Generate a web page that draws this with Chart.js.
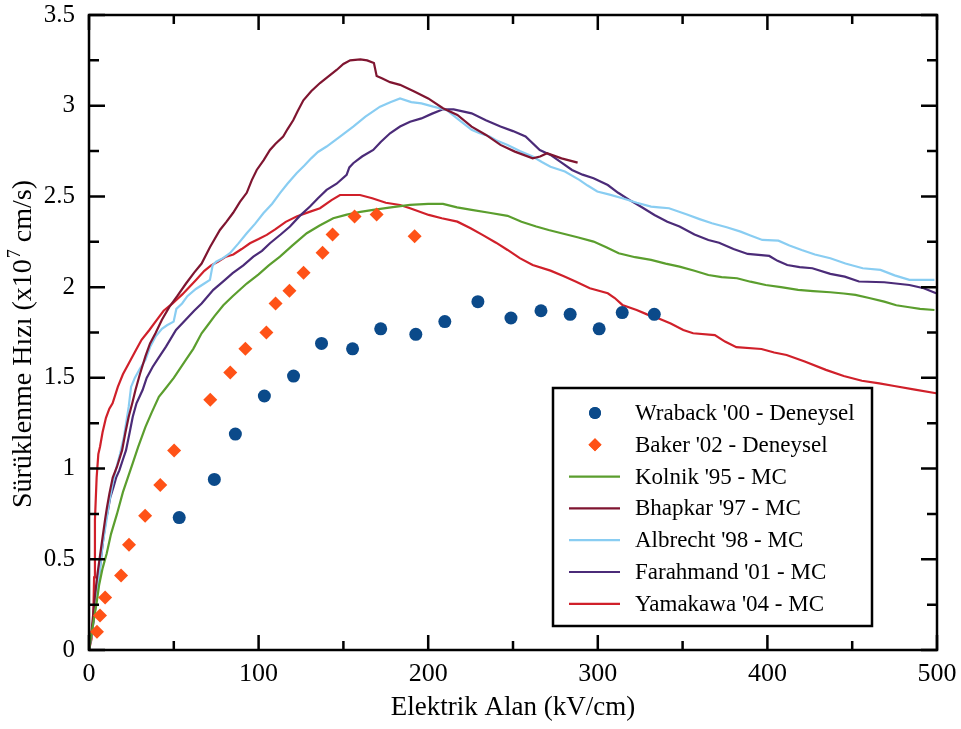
<!DOCTYPE html>
<html lang="tr">
<head>
<meta charset="utf-8">
<title>Sürüklenme Hızı - Elektrik Alan</title>
<script src="https://cdn.jsdelivr.net/npm/chart.js@4.4.1/dist/chart.umd.min.js"></script>
<style>
  html, body { margin: 0; padding: 0; background: #fff; }
  #wrap { width: 961px; height: 729px; }
</style>
</head>
<body>
<div id="wrap"><canvas id="myChart" width="961" height="729"></canvas></div>
<script>
'use strict';

// axis ranges and tick steps
const fieldMin = 0, fieldMax = 500, fieldStep = 100, fieldMinorStep = 50;
const velMin = 0, velMax = 3.5, velStep = 0.5, velMinorStep = 0.25;

// measured points: [field kV/cm, velocity x10^7 cm/s]
const wraback = [
  [53.2, 0.73], [73.9, 0.94], [86.3, 1.19], [103.4, 1.40], [120.6, 1.51],
  [137.1, 1.69], [155.4, 1.66], [172, 1.77], [192.7, 1.74], [209.8, 1.81],
  [229.3, 1.92], [248.8, 1.83], [266.5, 1.87], [283.7, 1.85], [300.8, 1.77],
  [314.4, 1.86], [333.3, 1.85]
];
const baker = [
  [4.7, 0.10], [6.5, 0.19], [9.5, 0.29], [18.9, 0.41], [23.6, 0.58],
  [33.1, 0.74], [42, 0.91], [50.2, 1.10], [71.5, 1.38], [83.3, 1.53],
  [92.2, 1.66], [104.6, 1.75], [110, 1.91], [118.2, 1.98], [126.5, 2.08],
  [137.7, 2.19], [143.6, 2.29], [156.6, 2.39], [169.6, 2.40], [192, 2.28]
];

// Monte Carlo curves
const kolnik = [
  [0, 0], [2, 0.12], [4.5, 0.26], [6, 0.36], [8, 0.45], [10.4, 0.53], [13, 0.64],
  [16.5, 0.75], [20, 0.87], [25.8, 1.03], [29, 1.12], [33.3, 1.23], [37, 1.31],
  [41.2, 1.396], [45, 1.44], [50, 1.5], [57.2, 1.6], [61.5, 1.66], [66.4, 1.746],
  [70, 1.79], [74, 1.84], [79.2, 1.9], [84.7, 1.95], [93, 2.02], [100, 2.07], [106, 2.12],
  [112.6, 2.168], [120, 2.23], [128.4, 2.297], [136, 2.34], [144, 2.38], [152, 2.40],
  [160, 2.415], [167.6, 2.426], [178, 2.44], [189.3, 2.453], [200, 2.459],
  [208.7, 2.459], [217, 2.44], [225.6, 2.426], [236, 2.41], [246.8, 2.393],
  [255, 2.36], [263.7, 2.334], [271, 2.315], [278.6, 2.297], [288, 2.275],
  [297.5, 2.251], [305, 2.22], [312.3, 2.187], [322, 2.165], [331.4, 2.15],
  [340, 2.13], [348.2, 2.113], [357, 2.09], [365.2, 2.067], [373, 2.055],
  [382.1, 2.049], [390, 2.03], [399, 2.012], [408, 2.0], [418.1, 1.985],
  [427, 1.978], [437.1, 1.972], [445, 1.965], [451.9, 1.957], [460, 1.94],
  [468.9, 1.92], [476, 1.90], [483.7, 1.889], [490, 1.88], [498.5, 1.874]
];
const bhapkar = [
  [0, 0], [1.5, 0.1], [2.5, 0.2], [3.5, 0.3], [5, 0.42], [6.5, 0.52], [8, 0.62],
  [9.5, 0.72], [10.5, 0.78], [12, 0.86], [14, 0.95], [16.5, 1.01], [19.5, 1.10],
  [21.5, 1.2], [23.4, 1.286], [25.5, 1.36], [27.4, 1.433], [30, 1.52], [33.3, 1.62],
  [36, 1.69], [39.2, 1.746], [43, 1.82], [47.3, 1.89], [52, 1.95], [57.2, 2.02],
  [62, 2.08], [66.4, 2.13], [71.3, 2.22], [77.2, 2.315], [81, 2.36], [85, 2.41],
  [89, 2.47], [93, 2.52], [96, 2.59], [98.9, 2.646], [103, 2.70], [106.7, 2.756],
  [110, 2.79], [114.5, 2.83], [117, 2.87], [120.4, 2.92], [123, 2.97],
  [126.4, 3.03], [131, 3.08], [136.2, 3.125], [141, 3.16], [146, 3.197],
  [150, 3.23], [154, 3.25], [160, 3.255], [164, 3.25], [168, 3.235],
  [169.6, 3.164], [173, 3.15], [177.5, 3.13], [183.4, 3.115], [191.8, 3.078],
  [200, 3.04], [208.7, 2.986], [217.2, 2.949], [225.6, 2.885], [234.1, 2.839],
  [242.6, 2.784], [251.1, 2.747], [261.6, 2.71], [266, 2.72], [270.1, 2.738],
  [278.6, 2.71], [288.1, 2.686]
];
const albrecht = [
  [0, 0], [1.5, 0.08], [3, 0.2], [4.5, 0.3], [6.5, 0.45], [8, 0.58], [10.4, 0.72],
  [12, 0.82], [14, 0.92], [16, 1.0], [18.3, 1.08], [20.6, 1.176], [23.4, 1.34],
  [24.8, 1.45], [27, 1.5], [30, 1.55], [33.3, 1.6], [36, 1.67], [39.2, 1.727],
  [43, 1.77], [46, 1.79], [49.9, 1.81], [51.5, 1.88], [54.9, 1.91], [58, 1.95], [63, 1.99],
  [68, 2.02], [71.3, 2.04], [72.9, 2.12], [75, 2.14], [79, 2.16], [83.1, 2.187],
  [88, 2.24], [93, 2.297], [98, 2.35], [102.8, 2.407], [108, 2.46], [112.6, 2.518],
  [117, 2.57], [122.4, 2.628], [127, 2.67], [131, 2.71], [135, 2.745],
  [140.1, 2.775], [148, 2.83], [155.8, 2.885], [163, 2.94], [171.6, 2.995],
  [178, 3.02], [183.4, 3.04], [190, 3.02], [196, 3.013], [203, 2.995],
  [210.8, 2.977], [217, 2.93], [225.6, 2.867], [230, 2.85], [236.2, 2.83],
  [240, 2.81], [246.8, 2.784], [254, 2.75], [261.6, 2.72], [267, 2.69],
  [272.1, 2.664], [280.6, 2.637], [289.1, 2.591], [294, 2.56], [299.7, 2.527],
  [307, 2.51], [314.5, 2.49], [323, 2.465], [331.4, 2.444], [336, 2.44],
  [342, 2.435], [352.6, 2.4], [360, 2.375], [367.3, 2.352], [376, 2.33],
  [384.2, 2.306], [390, 2.285], [397, 2.26], [406.5, 2.256], [413, 2.23],
  [420.2, 2.205], [428, 2.18], [437.1, 2.159], [446, 2.13], [456.2, 2.104],
  [466.7, 2.095], [475, 2.065], [483.7, 2.04], [490, 2.04], [498.5, 2.04]
];
const farahmand = [
  [0, 0], [1.5, 0.08], [3, 0.18], [4.5, 0.3], [6.5, 0.46], [8.5, 0.62], [10, 0.72],
  [11, 0.76], [12.5, 0.84], [14.5, 0.9], [16, 0.95], [17.9, 0.99], [20, 1.05],
  [21.8, 1.10], [24, 1.2], [25.8, 1.286], [28, 1.36], [31.6, 1.433], [34, 1.5],
  [37.5, 1.56], [41, 1.61], [45.4, 1.672], [51.3, 1.764], [57, 1.82], [62, 1.87],
  [66.4, 1.91], [73.3, 1.985], [79, 2.03], [84.7, 2.077], [91, 2.12], [96.9, 2.168], [102, 2.2],
  [106.7, 2.242], [113, 2.29], [118.5, 2.334], [124, 2.39], [130.3, 2.444],
  [135, 2.49], [140.1, 2.536], [146, 2.57], [151.9, 2.619], [153.5, 2.66],
  [155.8, 2.683], [161, 2.72], [167.6, 2.756], [172, 2.80], [177.5, 2.848],
  [183.4, 2.885], [189.3, 2.912], [196, 2.93], [202, 2.955], [208.7, 2.98],
  [215, 2.98], [225.6, 2.958], [234, 2.92], [242.6, 2.885], [250, 2.86],
  [257.4, 2.83], [265.8, 2.756], [272.1, 2.729], [278, 2.69], [284.8, 2.646],
  [291, 2.62], [297.5, 2.6], [305.9, 2.563], [312, 2.52], [318.6, 2.481],
  [326, 2.44], [333.4, 2.398], [341, 2.36], [348.2, 2.334], [357, 2.29],
  [365.2, 2.26], [371.5, 2.245], [380, 2.21], [388.4, 2.183], [401.1, 2.172],
  [406, 2.145], [411.7, 2.122], [419, 2.11], [426.5, 2.104], [437.1, 2.073],
  [445.6, 2.058], [454, 2.031], [468.9, 2.027], [483.7, 2.012], [492.2, 1.994],
  [499.5, 1.966]
];
const yamakawa = [
  [0, 0], [1.5, 0.06], [2.5, 0.165], [3, 0.4], [3.5, 0.717], [4.5, 0.95],
  [5.5, 1.08], [6.5, 1.12], [8, 1.2], [10, 1.28], [12, 1.33], [13.9, 1.36],
  [17, 1.45], [20, 1.52], [23.5, 1.58], [27.7, 1.654], [31, 1.71], [35.6, 1.764],
  [40, 1.82], [44, 1.87], [49.3, 1.91], [55, 1.96], [63.1, 2.04],
  [68, 2.09], [72, 2.12], [76, 2.14], [80.8, 2.168], [85.1, 2.18], [90, 2.21],
  [94.9, 2.242], [100, 2.265], [104.8, 2.288], [110, 2.32], [116, 2.36],
  [122.4, 2.389], [130, 2.415], [136.2, 2.435], [143, 2.48], [148, 2.508],
  [154, 2.508], [159.8, 2.508], [167, 2.49], [175, 2.465], [183.4, 2.453],
  [189.3, 2.435], [200.3, 2.398], [208, 2.38], [217.2, 2.361], [225, 2.325],
  [232, 2.288], [240, 2.245], [246.8, 2.205], [254, 2.16], [261.6, 2.122],
  [272.1, 2.091], [280, 2.06], [286.9, 2.031], [295.3, 1.994], [305.9, 1.966],
  [310, 1.94], [314.5, 1.902], [322.9, 1.874], [329, 1.85], [335.6, 1.828],
  [343, 1.80], [350.4, 1.764], [356.2, 1.746], [369, 1.736], [375, 1.70],
  [381.7, 1.669], [396.5, 1.659], [404, 1.64], [411.3, 1.626], [422, 1.59],
  [434.5, 1.544], [445, 1.51], [455.7, 1.484], [466, 1.47], [474.8, 1.455],
  [487, 1.435], [499.5, 1.415]
];

const seriesLabels = [
  'Wraback \'00 - Deneysel', 'Baker \'02 - Deneysel', 'Kolnik \'95 - MC',
  'Bhapkar \'97 - MC', 'Albrecht \'98 - MC', 'Farahmand \'01 - MC', 'Yamakawa \'04 - MC'
];
const seriesColors = ['#0b4a8a', '#ff5217', '#5b9e2e', '#7f1530', '#89cdf2', '#4b2b78', '#d0202a'];

const xTitle = 'Elektrik Alan (kV/cm)';
const yTitleParts = ['Sürüklenme Hızı (x10', '7', ' cm/s)'];

const serif = '"Liberation Serif", "Times New Roman", serif';

function toPoints(pairs) {
  return pairs.map(p => ({ x: p[0], y: p[1] }));
}

function markerSet(i, pairs, style, radius) {
  return {
    label: seriesLabels[i],
    data: toPoints(pairs),
    showLine: false,
    pointStyle: style,
    pointRadius: radius,
    pointBackgroundColor: seriesColors[i],
    pointBorderWidth: 0,
    borderColor: seriesColors[i]
  };
}

function lineSet(i, pairs) {
  return {
    label: seriesLabels[i],
    data: toPoints(pairs),
    showLine: true,
    borderColor: seriesColors[i],
    borderWidth: 2.2,
    pointRadius: 0,
    tension: 0,
    fill: false
  };
}

// frame with inward ticks on all four sides
const frameTicks = {
  id: 'frameTicks',
  afterDatasetsDraw(chart) {
    const { ctx, chartArea: a, scales: { x, y } } = chart;
    ctx.save();
    ctx.strokeStyle = '#000';
    ctx.lineWidth = 2.5;
    ctx.strokeRect(a.left, a.top, a.right - a.left, a.bottom - a.top);
    ctx.beginPath();
    for (let v = fieldMin; v <= fieldMax; v += fieldMinorStep) {
      const px = x.getPixelForValue(v);
      const len = (v % fieldStep === 0) ? 15 : 9;
      ctx.moveTo(px, a.bottom); ctx.lineTo(px, a.bottom - len);
      ctx.moveTo(px, a.top); ctx.lineTo(px, a.top + len);
    }
    for (let k = 0; k <= Math.round((velMax - velMin) / velMinorStep); k++) {
      const v = velMin + k * velMinorStep;
      const py = y.getPixelForValue(v);
      const len = (k % 2 === 0) ? 16 : 10;
      ctx.moveTo(a.left, py); ctx.lineTo(a.left + len, py);
      ctx.moveTo(a.right, py); ctx.lineTo(a.right - len, py);
    }
    ctx.stroke();
    ctx.restore();
  }
};

// rotated y title with superscript exponent, and the boxed legend
const titleAndLegend = {
  id: 'titleAndLegend',
  afterDraw(chart) {
    const { ctx, chartArea: a } = chart;
    ctx.save();
    ctx.fillStyle = '#000';
    ctx.textBaseline = 'middle';
    ctx.textAlign = 'left';
    const big = '28px ' + serif, small = '18px ' + serif;
    ctx.font = big;
    const w0 = ctx.measureText(yTitleParts[0]).width;
    const w2 = ctx.measureText(yTitleParts[2]).width;
    ctx.font = small;
    const w1 = ctx.measureText(yTitleParts[1]).width;
    ctx.translate(24, (a.top + a.bottom) / 2 + 12);
    ctx.rotate(-Math.PI / 2);
    let tx = -(w0 + w1 + w2) / 2;
    ctx.font = big;
    ctx.fillText(yTitleParts[0], tx, 0);
    tx += w0;
    ctx.font = small;
    ctx.fillText(yTitleParts[1], tx + 1, -9);
    tx += w1 + 1;
    ctx.font = big;
    ctx.fillText(yTitleParts[2], tx, 0);
    ctx.restore();

    // legend box
    const box = { left: 553, top: 388, right: 872, bottom: 626 };
    ctx.save();
    ctx.fillStyle = '#fff';
    ctx.fillRect(box.left, box.top, box.right - box.left, box.bottom - box.top);
    ctx.strokeStyle = '#000';
    ctx.lineWidth = 2.5;
    ctx.strokeRect(box.left, box.top, box.right - box.left, box.bottom - box.top);
    ctx.font = '23px ' + serif;
    ctx.textBaseline = 'middle';
    ctx.textAlign = 'left';
    chart.data.datasets.forEach((ds, i) => {
      const rowY = 413 + i * 31.8;
      if (ds.showLine) {
        ctx.strokeStyle = ds.borderColor;
        ctx.lineWidth = 2.2;
        ctx.beginPath();
        ctx.moveTo(569, rowY); ctx.lineTo(620, rowY);
        ctx.stroke();
      } else {
        ctx.fillStyle = ds.pointBackgroundColor;
        Chart.helpers.drawPoint(ctx, { pointStyle: ds.pointStyle, radius: ds.pointRadius - 0.5, borderWidth: 0, rotation: 0 }, 595, rowY);
        ctx.fill();
      }
      ctx.fillStyle = '#000';
      ctx.fillText(ds.label, 635, rowY + 1);
    });
    ctx.restore();
  }
};

const ctx = document.getElementById('myChart').getContext('2d');

new Chart(ctx, {
  type: 'scatter',
  data: {
    datasets: [
      markerSet(0, wraback, 'circle', 6.5),
      markerSet(1, baker, 'rectRot', 7),
      lineSet(2, kolnik),
      lineSet(3, bhapkar),
      lineSet(4, albrecht),
      lineSet(5, farahmand),
      lineSet(6, yamakawa)
    ]
  },
  options: {
    responsive: false,
    devicePixelRatio: 1,
    animation: false,
    layout: { padding: { top: 15, right: 24, left: 0, bottom: 0 } },
    plugins: {
      legend: { display: false },
      tooltip: { enabled: false }
    },
    scales: {
      x: {
        type: 'linear',
        min: fieldMin,
        max: fieldMax,
        grid: { display: false, drawTicks: false },
        border: { display: false },
        ticks: {
          stepSize: fieldStep,
          color: '#000',
          padding: 9,
          maxRotation: 0,
          font: { family: serif, size: 26 }
        },
        title: {
          display: true,
          text: xTitle,
          color: '#000',
          font: { family: serif, size: 27 },
          padding: { top: 0, bottom: 5 }
        },
        afterFit(axis) {
          axis.height = 79;
          axis.paddingLeft = 0;
          axis.paddingRight = 0;
        }
      },
      y: {
        type: 'linear',
        min: velMin,
        max: velMax,
        grid: { display: false, drawTicks: false },
        border: { display: false },
        ticks: {
          stepSize: velStep,
          color: '#000',
          padding: 14,
          font: { family: serif, size: 25 },
          callback: v => String(+v.toFixed(2))
        },
        afterFit(axis) {
          axis.width = 89;
          axis.paddingTop = 0;
          axis.paddingBottom = 0;
        }
      }
    }
  },
  plugins: [frameTicks, titleAndLegend]
});
</script>
</body>
</html>
